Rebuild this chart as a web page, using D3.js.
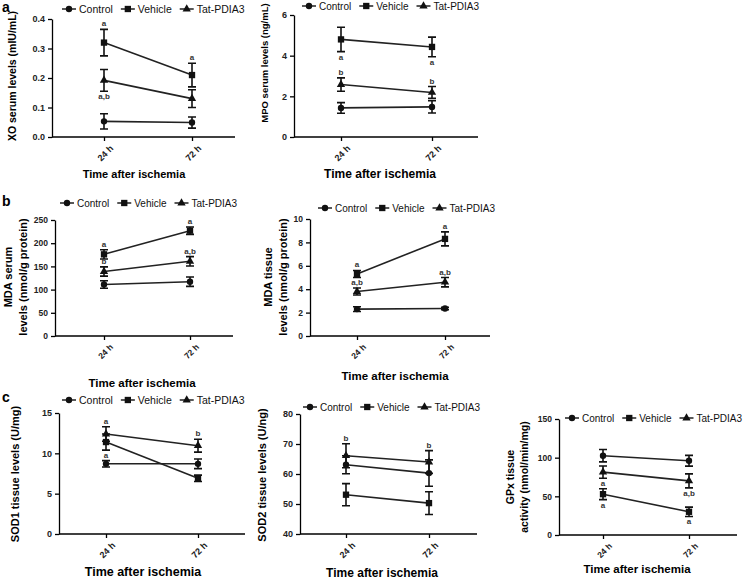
<!DOCTYPE html>
<html lang="en">
<head>
<meta charset="UTF-8">
<title>Oxidative stress markers after ischemia</title>
<script src="https://d3js.org/d3.v7.min.js"></script>
<style>
  body { margin: 0; background: #fff; }
  svg { display: block; font-family: Arial, "Liberation Sans", sans-serif; }
</style>
</head>
<body>
<svg id="fig" width="747" height="579"></svg>
<script>
const times = ["24 h", "72 h"];
const groups = ["Control", "Vehicle", "Tat-PDIA3"];

// each means/errs array: [Control, Vehicle, Tat-PDIA3] x [24 h, 72 h]
const xoMeans = [[0.053, 0.049], [0.32, 0.21], [0.192, 0.13]];
const xoErrs = [[0.026, 0.019], [0.045, 0.04], [0.037, 0.03]];
const xoTicks = [0, 0.1, 0.2, 0.3, 0.4];
const xoNotes = [[1, 0, "a", "up"], [1, 1, "a", "up"], [2, 0, "a,b", "down"]];

const mpoMeans = [[1.43, 1.48], [4.8, 4.43], [2.58, 2.19]];
const mpoErrs = [[0.26, 0.3], [0.6, 0.48], [0.33, 0.29]];
const mpoTicks = [0, 2, 4, 6];
const mpoNotes = [[1, 0, "a", "down"], [1, 1, "a", "down"], [2, 0, "b", "up"], [2, 1, "b", "up"]];

const mdaSerumMeans = [[111, 117], [176, 227], [139, 161]];
const mdaSerumErrs = [[8, 10], [10, 8], [10, 10]];
const mdaSerumTicks = [0, 50, 100, 150, 200, 250];
const mdaSerumNotes = [[1, 0, "a", "up"], [2, 0, "b", "up"], [1, 1, "a", "up"], [2, 1, "a,b", "up"]];

const mdaTissueMeans = [[2.3, 2.35], [5.3, 8.3], [3.8, 4.6]];
const mdaTissueErrs = [[0.2, 0.1], [0.3, 0.6], [0.3, 0.4]];
const mdaTissueTicks = [0, 2, 4, 6, 8, 10];
const mdaTissueNotes = [[1, 0, "a", "up"], [2, 0, "a,b", "up"], [1, 1, "a", "up"], [2, 1, "a,b", "up"]];

const sod1Means = [[8.7, 8.7], [11.4, 6.9], [12.4, 10.95]];
const sod1Errs = [[0.4, 0.6], [1.0, 0.4], [0.9, 0.8]];
const sod1Ticks = [0, 5, 10, 15];
const sod1Notes = [[2, 0, "a", "up"], [1, 0, "a", "down"], [2, 1, "b", "up"]];

const sod2Means = [[63.1, 60.3], [53.1, 50.3], [66.1, 64]];
const sod2Errs = [[3, 4.4], [3.7, 3.8], [4, 3.8]];
const sod2Ticks = [40, 50, 60, 70, 80];
const sod2Notes = [[2, 0, "b", "up"], [2, 1, "b", "up"]];

const gpxMeans = [[102.5, 96], [52.8, 30], [81.3, 70]];
const gpxErrs = [[8, 7], [7, 6], [8, 9]];
const gpxTicks = [0, 50, 100, 150];
const gpxNotes = [[2, 0, "a", "down"], [1, 0, "a", "down"], [2, 1, "a,b", "down"], [1, 1, "a", "down"]];

const panels = [
  { letter: "a", letterY: 12, means: xoMeans, errs: xoErrs, ticks: xoTicks, fmt: d3.format(".1f"), notes: xoNotes,
    yTitle: ["XO serum levels (mIU/mL)"], ax: 52, ar: 235, top: 19, bot: 137, x0: 104, x1: 192,
    ytx: 12, yty: 76, xtx: 134, xty: 178, legX: 62, legY: 9, fLeg: 10.5, fTick: 9, fY: 10.5, fX: 11 },
  { means: mpoMeans, errs: mpoErrs, ticks: mpoTicks, fmt: d3.format("d"), notes: mpoNotes,
    yTitle: ["MPO serum levels (ng/mL)"], ax: 294, ar: 478, top: 15, bot: 137, x0: 341, x1: 432,
    ytx: 265, yty: 63, xtx: 380, xty: 178, legX: 302, legY: 6, fLeg: 10, fTick: 9, fY: 9.5, fX: 12 },
  { letter: "b", letterY: 206, means: mdaSerumMeans, errs: mdaSerumErrs, ticks: mdaSerumTicks, fmt: d3.format("d"), notes: mdaSerumNotes,
    yTitle: ["MDA serum", "levels (nmol/g protein)"], ax: 55, ar: 233, top: 220, bot: 336, x0: 104, x1: 190,
    ytx: 15, yty: 277, xtx: 142, xty: 387, legX: 60, legY: 203, fLeg: 10, fTick: 8.5, fY: 11, fX: 11.5 },
  { means: mdaTissueMeans, errs: mdaTissueErrs, ticks: mdaTissueTicks, fmt: d3.format("d"), notes: mdaTissueNotes,
    yTitle: ["MDA tissue", "levels (nmol/g protein)"], ax: 310, ar: 490, top: 219, bot: 336, x0: 357, x1: 445,
    ytx: 275, yty: 277, xtx: 395, xty: 380, legX: 318, legY: 208, fLeg: 10, fTick: 8.5, fY: 11, fX: 11.5 },
  { letter: "c", letterY: 402, means: sod1Means, errs: sod1Errs, ticks: sod1Ticks, fmt: d3.format("d"), notes: sod1Notes,
    yTitle: ["SOD1 tissue levels (U/mg)"], ax: 59, ar: 245, top: 413, bot: 534, x0: 106, x1: 198,
    ytx: 15, yty: 474, xtx: 143, xty: 576, legX: 62, legY: 400, fLeg: 10.5, fTick: 9, fY: 11, fX: 12.5 },
  { means: sod2Means, errs: sod2Errs, ticks: sod2Ticks, fmt: d3.format("d"), notes: sod2Notes,
    yTitle: ["SOD2 tissue levels (U/ng)"], ax: 300, ar: 477, top: 414, bot: 534, x0: 346, x1: 429,
    ytx: 262, yty: 475, xtx: 382, xty: 577, legX: 303, legY: 407, fLeg: 10, fTick: 9, fY: 11, fX: 12 },
  { means: gpxMeans, errs: gpxErrs, ticks: gpxTicks, fmt: d3.format("d"), notes: gpxNotes,
    yTitle: ["GPx tissue", "activity (nmol/min/mg)"], ax: 559, ar: 737, top: 419, bot: 535, x0: 603, x1: 689,
    ytx: 517, yty: 477, xtx: 637, xty: 573, legX: 565, legY: 418, fLeg: 10, fTick: 8.5, fY: 10.5, fX: 11.5 }
];

const svg = d3.select("#fig");

// marker shapes: circle, square, triangle
const symbols = [d3.symbolCircle, d3.symbolSquare, d3.symbolTriangle];
const symSizes = [32, 40, 30];

function drawMarker(g, i, x, y) {
  g.append("path")
    .attr("d", d3.symbol().type(symbols[i]).size(symSizes[i])())
    .attr("transform", `translate(${x},${y})`)
    .attr("fill", "#111");
}

panels.forEach(p => {
  const g = svg.append("g");

  const y = d3.scaleLinear().domain([p.ticks[0], p.ticks[p.ticks.length - 1]]).range([p.bot, p.top]);
  const x = d3.scalePoint().domain(times).range([p.x0, p.x1]);

  if (p.letter) {
    svg.append("text").attr("x", 2).attr("y", p.letterY)
      .attr("font-size", 14).attr("font-weight", "bold").text(p.letter);
  }

  // y axis
  const yAxis = g.append("g").attr("transform", `translate(${p.ax},0)`)
    .call(d3.axisLeft(y).tickValues(p.ticks).tickFormat(p.fmt).tickSize(4).tickSizeOuter(0));
  yAxis.selectAll("text").attr("font-size", p.fTick).attr("font-weight", "bold").attr("fill", "#222");

  // x axis
  const xAxis = g.append("g").attr("transform", `translate(0,${p.bot})`)
    .call(d3.axisBottom(x).tickSize(4));
  xAxis.select(".domain").remove();
  xAxis.selectAll("text")
    .attr("font-size", p.fTick).attr("font-weight", "bold").attr("fill", "#222")
    .attr("text-anchor", "end")
    .attr("transform", "rotate(-45)")
    .attr("dx", "-0.2em").attr("dy", "0.9em");
  g.append("line").attr("x1", p.ax).attr("x2", p.ar).attr("y1", p.bot).attr("y2", p.bot)
    .attr("stroke", "#000");
  g.selectAll(".domain, .tick line").attr("stroke", "#000").attr("stroke-width", 1.3);
  g.selectAll("line").attr("stroke-width", 1.3);

  // axis titles
  const yt = g.append("text")
    .attr("transform", `translate(${p.ytx},${p.yty}) rotate(-90)`)
    .attr("text-anchor", "middle").attr("font-size", p.fY).attr("font-weight", "bold");
  p.yTitle.forEach((t, k) => {
    yt.append("tspan").attr("x", 0)
      .attr("dy", k === 0 ? (p.yTitle.length === 1 ? "0.35em" : "-0.25em") : "1.3em").text(t);
  });
  g.append("text").attr("x", p.xtx).attr("y", p.xty).attr("text-anchor", "middle")
    .attr("font-size", p.fX).attr("font-weight", "bold").text("Time after ischemia");

  // series
  groups.forEach((name, gi) => {
    const pts = times.map((t, ti) => ({ t, m: p.means[gi][ti], e: p.errs[gi][ti] }));
    g.append("path").datum(pts)
      .attr("d", d3.line().x(d => x(d.t)).y(d => y(d.m)))
      .attr("fill", "none").attr("stroke", "#222").attr("stroke-width", 1.6);
    pts.forEach(d => {
      const cx = x(d.t), y1 = y(d.m + d.e), y2 = y(d.m - d.e);
      g.append("path")
        .attr("d", `M${cx},${y1}V${y2}M${cx - 4},${y1}H${cx + 4}M${cx - 4},${y2}H${cx + 4}`)
        .attr("stroke", "#111").attr("stroke-width", 1.6).attr("fill", "none");
      drawMarker(g, gi, cx, y(d.m));
    });
  });

  // significance letters
  p.notes.forEach(([gi, ti, label, pos]) => {
    const m = p.means[gi][ti], e = p.errs[gi][ti];
    const ty = pos === "up" ? y(m + e) - 3 : y(m - e) + 8;
    g.append("text").attr("x", x(times[ti])).attr("y", ty).attr("text-anchor", "middle")
      .attr("font-size", 8).attr("font-weight", "bold").attr("fill", "#333").text(label);
  });

  // legend
  let lx = p.legX;
  groups.forEach((name, gi) => {
    g.append("line").attr("x1", lx).attr("x2", lx + 14).attr("y1", p.legY).attr("y2", p.legY)
      .attr("stroke", "#111").attr("stroke-width", 1.4);
    drawMarker(g, gi, lx + 7, p.legY);
    const t = g.append("text").attr("x", lx + 17).attr("y", p.legY).attr("dy", "0.35em")
      .attr("font-size", p.fLeg).attr("fill", "#111").text(name);
    lx += 17 + t.node().getComputedTextLength() + 8;
  });
});
</script>
</body>
</html>
